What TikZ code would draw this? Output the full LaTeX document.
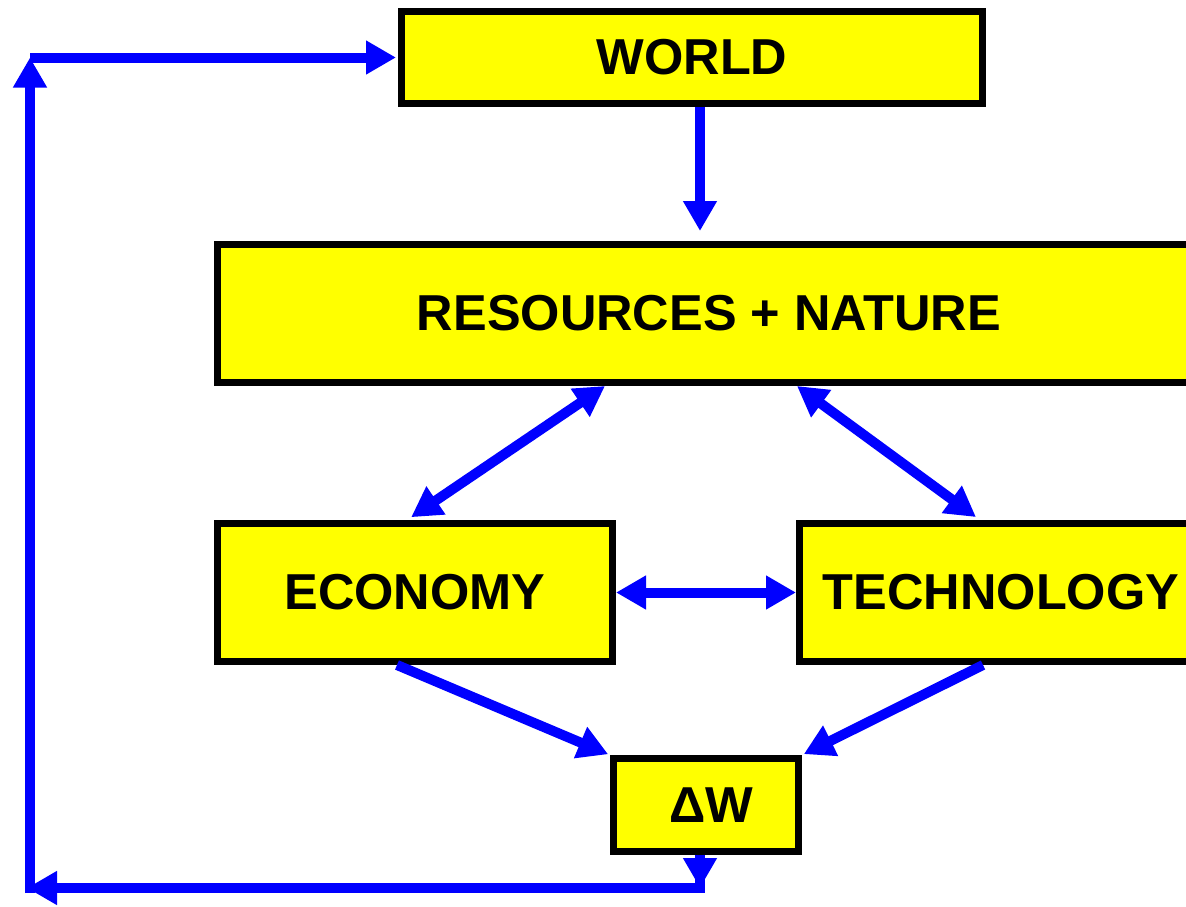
\documentclass[tikz,border=0pt]{standalone}
\usepackage{fontspec}
\setmainfont{Liberation Sans}
\usetikzlibrary{arrows.meta}
\definecolor{boxyellow}{RGB}{255,255,0}
\definecolor{linkblue}{RGB}{0,0,255}
\tikzset{
  box/.style={draw=black, line width=7pt, fill=boxyellow, inner sep=0pt,
    font=\fontsize{50.5}{60}\selectfont\bfseries},
  link/.style={draw=linkblue, line width=10pt, -{Triangle[length=30pt,width=32pt]}},
  both/.style={draw=linkblue, line width=10pt, {Triangle[length=30pt,width=32pt]}-{Triangle[length=30pt,width=32pt]}},
  plain/.style={draw=linkblue, line width=10pt}
}
\begin{document}
\begin{tikzpicture}[x=1pt,y=-1pt]
 \useasboundingbox (0,0) rectangle (1186,906);
 \clip (0,0) rectangle (1186,906);
 %
 \node[box, minimum width=581pt, minimum height=92pt] (world) at (692,57.5) {WORLD};
 \node[box, minimum width=983pt, minimum height=138pt] (res) at (709,313.5) {RESOURCES + NATURE};
 \node[box, minimum width=395pt, minimum height=138pt] (econ) at (415,592.5) {ECONOMY};
 \node[box, minimum width=403pt, minimum height=138pt] (tech) at (1001,592.5) {TECHNOLOGY};
 \node[box, minimum width=185pt, minimum height=93pt] (dw) at (706,805) {\hspace{10pt}ΔW};
 %
 \coordinate (loopbr) at (700,888);
 \coordinate (loopbl) at (30,888);
 \coordinate (looptl) at (30,57.5);
 %
 \draw[link, shorten >=10pt] ([xshift=8pt]world.south) -- ([xshift=-9pt]res.north);
 %
 \draw[both, shorten >=5pt] ([xshift=391pt]res.south west) -- ([xshift=193pt]econ.north west);
 \draw[both, shorten >=5pt] ([xshift=583pt]res.south west) -- ([xshift=184pt]tech.north west);
 \draw[both] (econ.east) -- (tech.west);
 %
 \draw[link, shorten >=2pt] ([xshift=183pt]econ.south west) -- (dw.north west);
 \draw[link, shorten >=2pt] ([xshift=187pt]tech.south west) -- (dw.north east);
 %
 \draw[link] ([xshift=-6pt]dw.south) -- (loopbr);
 \draw[plain] ([xshift=-6pt]dw.south) -- ([yshift=-5pt]loopbr);
 \draw[link, shorten >=-3pt] (loopbr) -- (loopbl);
 \draw[plain] ([yshift=-5pt]loopbl) -- ([yshift=5pt]loopbl);
 \draw[link] ([yshift=5pt]loopbl) -- (looptl);
 \draw[link, shorten >=2pt] (looptl) -- (world.west |- looptl);
\end{tikzpicture}
\end{document}
